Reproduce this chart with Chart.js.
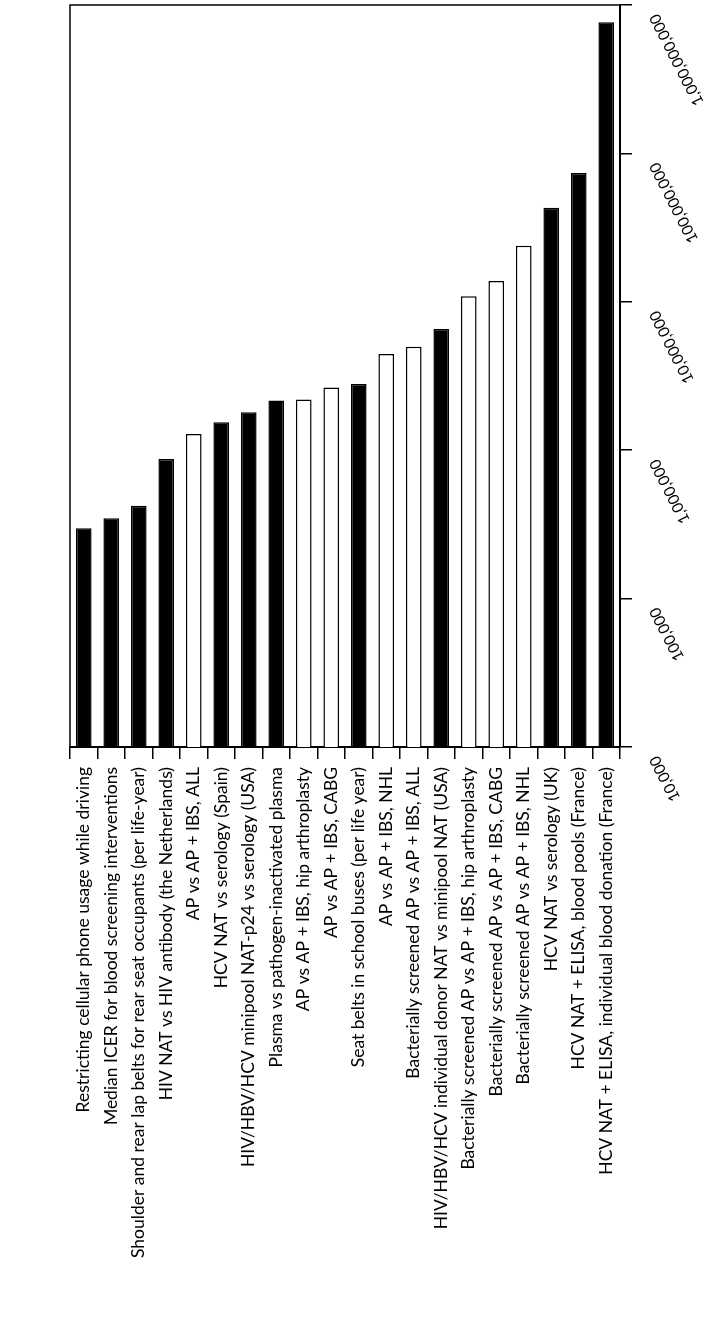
<!DOCTYPE html>
<html>
<head>
<meta charset="utf-8">
<script src="https://cdn.jsdelivr.net/npm/chart.js@4.4.0/dist/chart.umd.min.js"></script>
<style>
  html, body { margin: 0; padding: 0; background: #fff; }
</style>
</head>
<body>
<canvas id="myChart" width="703" height="1343"></canvas>
<script>
// categories, left to right
const categories = [
  "Restricting cellular phone usage while driving",
  "Median ICER for blood screening interventions",
  "Shoulder and rear lap belts for rear seat occupants (per life-year)",
  "HIV NAT vs HIV antibody (the Netherlands)",
  "AP vs AP + IBS, ALL",
  "HCV NAT vs serology (Spain)",
  "HIV/HBV/HCV minipool NAT-p24 vs serology (USA)",
  "Plasma vs pathogen-inactivated plasma",
  "AP vs AP + IBS, hip arthroplasty",
  "AP vs AP + IBS, CABG",
  "Seat belts in school buses (per life year)",
  "AP vs AP + IBS, NHL",
  "Bacterially screened AP vs AP + IBS, ALL",
  "HIV/HBV/HCV individual donor NAT vs minipool NAT (USA)",
  "Bacterially screened AP vs AP + IBS, hip arthroplasty",
  "Bacterially screened AP vs AP + IBS, CABG",
  "Bacterially screened AP vs AP + IBS, NHL",
  "HCV NAT vs serology (UK)",
  "HCV NAT + ELISA, blood pools (France)",
  "HCV NAT + ELISA, individual blood donation (France)"
];

// black bars
const literature = [
  298000, 348000, 422000, 873000, null, 1540000, 1800000, 2160000, null, null,
  2790000, null, null, 6560000, null, null, null, 43000000, 73800000, 764000000
];

// white bars
const presentStudy = [
  null, null, null, null, 1285000, null, null, null, 2200000, 2650000,
  null, 4450000, 4980000, null, 10900000, 13800000, 23900000, null, null, null
];

const tickValues = [1e4, 1e5, 1e6, 1e7, 1e8, 1e9];
const tickLabels = ["10,000", "100,000", "1,000,000", "10,000,000", "100,000,000", "1,000,000,000"];

const FONT = "Lato, 'DejaVu Sans', sans-serif";

// top and left frame lines
const framePlugin = {
  id: "frame",
  afterDraw(chart) {
    const { ctx, chartArea } = chart;
    ctx.save();
    ctx.strokeStyle = "#000";
    ctx.lineWidth = 1.5;
    ctx.beginPath();
    ctx.moveTo(chartArea.left, chartArea.bottom);
    ctx.lineTo(chartArea.left, chartArea.top);
    ctx.lineTo(chartArea.right, chartArea.top);
    ctx.stroke();
    ctx.restore();
  }
};

// slanted value labels on the right axis
const slantTicks = {
  id: "slantTicks",
  afterDraw(chart) {
    const { ctx } = chart;
    const y = chart.scales.y;
    ctx.save();
    ctx.fillStyle = "#000";
    ctx.font = "15.5px " + FONT;
    ctx.textAlign = "right";
    ctx.textBaseline = "middle";
    tickValues.forEach((v, i) => {
      const py = y.getPixelForValue(v);
      ctx.save();
      ctx.translate(y.left + 34, py + 10);
      ctx.rotate(-117 * Math.PI / 180);
      ctx.fillText(tickLabels[i], 0, 0);
      ctx.restore();
    });
    ctx.restore();
  }
};

const ctx = document.getElementById("myChart").getContext("2d");
const myChart = new Chart(ctx, {
  type: "bar",
  data: {
    labels: categories,
    datasets: [
      {
        label: "Data from literature",
        data: literature,
        backgroundColor: "#000",
        borderColor: "#000",
        borderWidth: 1.5
      },
      {
        label: "Data from present study",
        data: presentStudy,
        backgroundColor: "#fff",
        borderColor: "#000",
        borderWidth: 1.5
      }
    ]
  },
  options: {
    responsive: false,
    animation: false,
    layout: { padding: { left: 70, top: 5, right: 0, bottom: 0 } },
    datasets: {
      bar: { skipNull: true, barPercentage: 0.57, categoryPercentage: 1 }
    },
    plugins: {
      legend: { display: false },
      tooltip: { enabled: false }
    },
    scales: {
      x: {
        offset: true,
        border: { display: true, color: "#000", width: 2 },
        grid: {
          offset: true,
          drawOnChartArea: false,
          drawTicks: true,
          tickLength: 12,
          color: "#000",
          lineWidth: 1.5
        },
        ticks: {
          autoSkip: false,
          minRotation: 90,
          maxRotation: 90,
          padding: 8,
          color: "#000",
          font: { family: FONT, size: 17.5 }
        },
        afterFit(scale) { scale.height = 596; }
      },
      y: {
        type: "logarithmic",
        position: "right",
        min: 1e4,
        max: 1e9,
        border: { display: true, color: "#000", width: 2 },
        grid: {
          drawOnChartArea: false,
          drawTicks: true,
          tickLength: 12,
          color: "#000",
          lineWidth: 1.5
        },
        ticks: { display: false },
        afterBuildTicks(scale) {
          scale.ticks = tickValues.map(v => ({ value: v }));
        },
        afterFit(scale) { scale.width = 83; }
      }
    }
  },
  plugins: [framePlugin, slantTicks]
});
</script>
</body>
</html>
